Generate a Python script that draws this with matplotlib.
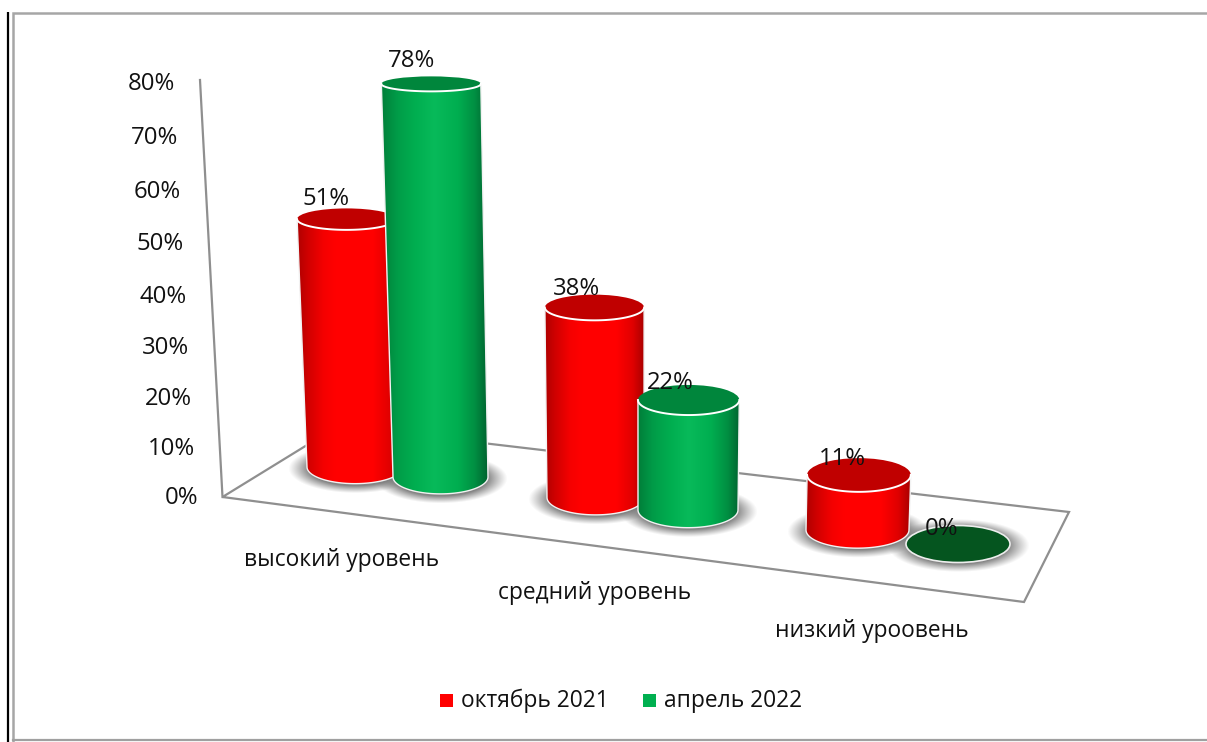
import numpy as np
import matplotlib
matplotlib.use("Agg")
import matplotlib.pyplot as plt
from matplotlib.colors import LinearSegmentedColormap
from matplotlib.patches import Ellipse, Polygon, Rectangle

FONT = "Open Sans"
plt.rcParams["font.family"] = [FONT, "DejaVu Sans"]

# ---------- data ----------
categories = ["высокий уровень", "средний уровень", "низкий уроовень"]
series_names = ["октябрь 2021", "апрель 2022"]
october_2021 = [51, 38, 11]
april_2022 = [78, 22, 0]
tick_values = [0, 10, 20, 30, 40, 50, 60, 70, 80]
tick_labels = ["0%", "10%", "20%", "30%", "40%", "50%", "60%", "70%", "80%"]

# ---------- layout (pixel frame of the figure) ----------
W, H = 1207, 742
base_x = {0: [355, 595.5, 857.5], 1: [440.5, 688, 958]}
base_y = {0: [467, 497.5, 530], 1: [477, 510, 544]}
base_w = {0: [96, 97, 103], 1: [95, 100, 104]}
px_per_pct = {0: [4.86, 5.0, 5.0], 1: [5.04, 5.0, 5.0]}
cat_label_pos = [(342, 560), (595, 593), (872, 631)]
FS_WORD = 16.4
FS_NUM = 17.2
GRID = "#8f8f8f"

red_cmap = LinearSegmentedColormap.from_list("r", [(0, "#b00000"), (0.1, "#d00000"), (0.25, "#f50000"),
                                                  (0.36, "#ff0000"), (0.72, "#ff0000"), (0.88, "#e00000"), (1, "#a80000")])
green_cmap = LinearSegmentedColormap.from_list("g", [(0, "#007f3a"), (0.15, "#009c48"), (0.32, "#00ae50"),
                                                    (0.5, "#08ba5a"), (0.72, "#00ae50"), (0.88, "#008f42"), (1, "#006430")])
top_color = {0: "#c00000", 1: "#00863c"}
flat_color = {0: "#800000", 1: "#05551f"}
legend_color = {0: "#ff0000", 1: "#00b050"}
cmaps = {0: red_cmap, 1: green_cmap}

fig = plt.figure(figsize=(W / 100, H / 100), dpi=100, facecolor="white")
ax = fig.add_axes([0, 0, 1, 1])
ax.set_autoscale_on(False)
ax.set_xlim(0, W)
ax.set_ylim(H, 0)
ax.axis("off")


def lean(bx, h):
    return 640 + (bx - 640) * (1 + 0.00012 * h)


def width(w, h):
    return w * (1 + 0.00012 * h)


def ry(y):
    return 7.5 + 0.0239 * (y - 84)


def tick_y(v):
    return 498.5 - 4.91 * v - 0.00344 * v * v


# frame
ax.plot([8, 8], [12, H], color="black", lw=1.6, zorder=1, solid_capstyle="butt")
ax.plot([12.5, 12.5, W], [H, 12.5, 12.5], color="#a6a6a6", lw=1.8, zorder=1, solid_joinstyle="miter")
ax.plot([12.5, W], [740, 740], color="#a0a0a0", lw=1.6, zorder=1)

# wall edge and floor
ax.plot([200, 222.5], [80, 497], color=GRID, lw=1.6, zorder=2)
ax.add_patch(Polygon([(222.5, 497), (338, 426), (1069, 512), (1024, 602)], closed=True, fill=False,
                     edgecolor=GRID, lw=1.6, zorder=2, joinstyle="miter"))

# axis labels
for v, lab in zip(tick_values, tick_labels):
    ax.text(198 - 23 * v / 80, tick_y(v), lab, ha="right", va="center", fontsize=FS_NUM, color="#111111", zorder=20)
for c, (x, y) in zip(categories, cat_label_pos):
    ax.text(x, y, c, ha="center", va="center", fontsize=FS_WORD, color="#111111", zorder=20)

# shadows first
yy, xx = np.mgrid[0:H, 0:W]
for s, vals in enumerate([october_2021, april_2022]):
    for i, v in enumerate(vals):
        bx, by, bw = base_x[s][i], base_y[s][i], base_w[s][i]
        a, b = bw / 2 + 19, ry(by) + 8
        l, r, t, u = int(bx - a), int(bx + a) + 2, int(by - b), int(by + b) + 2
        d = np.sqrt(((xx[t:u, l:r] - bx) / a) ** 2 + ((yy[t:u, l:r] - by - 1) / b) ** 2)
        al = 0.95 * np.clip((1 - d) / 0.3, 0, 1) ** 1.1
        img = np.zeros(d.shape + (4,))
        img[..., :3] = 0.5
        img[..., 3] = al
        ax.imshow(img, extent=(l, r, u, t), aspect="auto", zorder=3, interpolation="bilinear")

# cylinders back to front
z = 4
order = [(0, 0), (1, 0), (0, 1), (1, 1), (0, 2), (1, 2)]
series = {0: october_2021, 1: april_2022}
for s, i in order:
    v = series[s][i]
    bx, by, bw = base_x[s][i], base_y[s][i], base_w[s][i]
    h = v * px_per_pct[s][i]
    tx, ty = lean(bx, h), by - h
    tw = width(bw, h)
    if v > 0:
        th = np.linspace(np.pi, 0, 60)
        arc = np.column_stack([bx + bw / 2 * np.cos(th), by + ry(by) * np.sin(th)])
        pts = np.vstack([[(tx - tw / 2, ty)], arc, [(tx + tw / 2, ty)]])
        body = Polygon(pts, closed=True, facecolor="none", edgecolor="none", zorder=z)
        ax.add_patch(body)
        l, r = min(tx - tw / 2, bx - bw / 2), max(tx + tw / 2, bx + bw / 2)
        im = ax.imshow(np.linspace(0, 1, 200)[None, :], cmap=cmaps[s], extent=(l, r, by + ry(by), ty),
                       aspect="auto", zorder=z, interpolation="bilinear")
        im.set_clip_path(body)
        ax.plot(pts[:, 0], pts[:, 1], color="#f2f2f2", lw=1.0, zorder=z + 0.1)
        rt = ry(ty)
        ax.add_patch(Ellipse((tx, ty), tw, 2 * rt, facecolor=top_color[s], edgecolor="none", zorder=z + 0.2))
        th = np.linspace(np.pi, 0, 60)
        ax.plot(tx + tw / 2 * np.cos(th), ty + rt * np.sin(th), color="white", lw=1.4, zorder=z + 0.3)
    else:
        ax.add_patch(Ellipse((tx, ty), tw, 2 * ry(ty), facecolor=flat_color[s], edgecolor="#eeeeee",
                             lw=1.2, zorder=z + 0.2))
    ax.text(tx - 20 + 0.006 * (tx - 340), ty - (24.5 - 0.018 * ty), f"{v}%", ha="center", va="center", fontsize=FS_NUM,
            color="#111111", zorder=20)
    z += 1

# legend
legend_items = [(440, 461), (643, 664)]
for s, (sq, tx) in enumerate(legend_items):
    ax.add_patch(Rectangle((sq, 694), 12.7, 12.7, facecolor=legend_color[s], edgecolor="none", zorder=20))
    ax.text(tx, 701, series_names[s], ha="left", va="center", fontsize=FS_WORD, color="#111111", zorder=20)

fig.savefig("out.png", dpi=100)
